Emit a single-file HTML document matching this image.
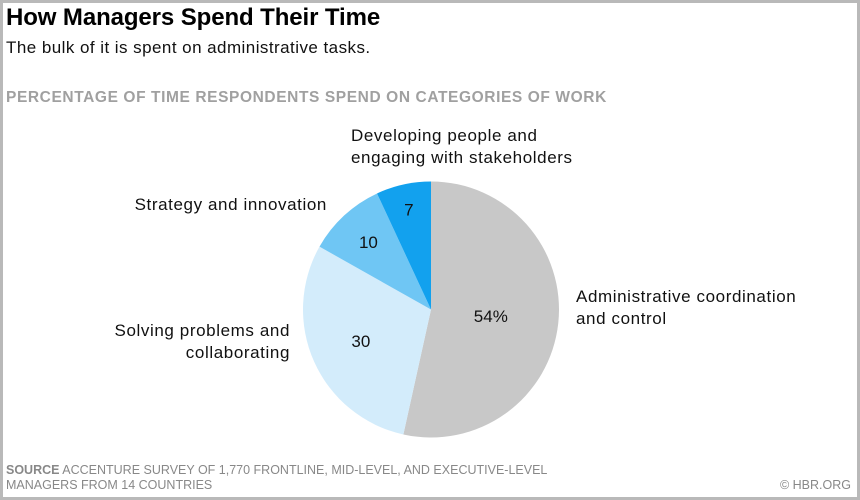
<!DOCTYPE html>
<html><head><meta charset="utf-8"><style>
body{margin:0;width:860px;height:500px;overflow:hidden;background:#fff;font-family:"Liberation Sans",sans-serif}
#frame{position:absolute;left:0;top:0;width:854px;height:494px;border:3px solid #b9b9b9;background:#fff}
.t{position:absolute;white-space:nowrap}
.lab{font-size:17px;letter-spacing:0.6px;line-height:22px;color:#111}
</style></head><body>
<div id="frame"></div>
<div class="t" style="left:6px;top:4px;font-size:24px;font-weight:bold;color:#000;letter-spacing:-0.1px">How Managers Spend Their Time</div>
<div class="t" style="left:6px;top:38px;font-size:17px;color:#111;letter-spacing:0.45px">The bulk of it is spent on administrative tasks.</div>
<div class="t" style="left:6px;top:89px;font-size:15.5px;font-weight:bold;color:#a0a0a0;letter-spacing:0.6px">PERCENTAGE OF TIME RESPONDENTS SPEND ON CATEGORIES OF WORK</div>
<svg id="pie" width="860" height="500" style="position:absolute;left:0;top:0"></svg>
<div class="t lab" style="left:351px;top:125px">Developing people and<br>engaging with stakeholders</div>
<div class="t lab" style="right:533px;top:194px">Strategy and innovation</div>
<div class="t lab" style="right:570px;top:320px;text-align:right">Solving problems and<br>collaborating</div>
<div class="t lab" style="left:576px;top:286px">Administrative coordination<br>and control</div>
<div class="t" style="left:6px;top:463px;font-size:12.5px;line-height:15px;color:#888"><b>SOURCE</b> ACCENTURE SURVEY OF 1,770 FRONTLINE, MID-LEVEL, AND EXECUTIVE-LEVEL<br>MANAGERS FROM 14 COUNTRIES</div>
<div class="t" style="right:9px;top:478px;font-size:12.5px;color:#888">© HBR.ORG</div>
<script>
const categories=["Administrative coordination and control","Solving problems and collaborating","Strategy and innovation","Developing people and engaging with stakeholders"];
const values=[54,30,10,7];
const valueLabels=["54%","30","10","7"];
const colors=["#c8c8c8","#d3ecfb","#6fc6f4","#12a1ee"];
const labelR=[0.47,0.6,0.72,0.8];
const cx=431,cy=309.5,r=128;
const svg=document.getElementById('pie');
const NS="http://www.w3.org/2000/svg";
const total=values.reduce((a,b)=>a+b,0);
function pt(a,rr){return [cx+rr*Math.sin(a),cy-rr*Math.cos(a)];}
let a0=0;
values.forEach((v,i)=>{
  const a1=a0+v/total*2*Math.PI;
  const p0=pt(a0,r),p1=pt(a1,r);
  const large=(a1-a0)>Math.PI?1:0;
  const path=document.createElementNS(NS,'path');
  path.setAttribute('d',`M${cx},${cy}L${p0[0]},${p0[1]}A${r},${r} 0 ${large} 1 ${p1[0]},${p1[1]}Z`);
  path.setAttribute('fill',colors[i]);
  
  
  svg.appendChild(path);
  const m=(a0+a1)/2,lp=pt(m,r*labelR[i]);
  const t=document.createElementNS(NS,'text');
  t.setAttribute('x',lp[0]);t.setAttribute('y',lp[1]+6);
  t.setAttribute('text-anchor','middle');
  t.setAttribute('font-size','17');
  t.setAttribute('font-family','Liberation Sans, sans-serif');
  t.setAttribute('fill','#111');
  t.textContent=valueLabels[i];
  
  
  svg.appendChild(t);
  a0=a1;
});
</script>
</body></html>
